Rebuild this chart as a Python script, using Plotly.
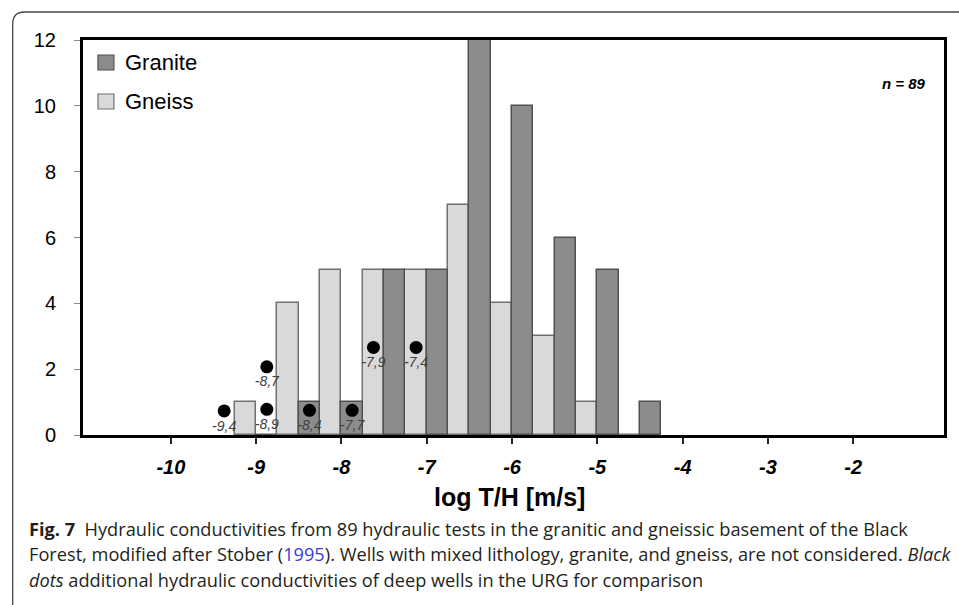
import plotly.graph_objects as go

# Histogram of log hydraulic conductivity (bins 0.5 log units wide)
bin_centers = [-9.0, -8.5, -8.0, -7.5, -7.0, -6.5, -6.0, -5.5, -5.0, -4.5]
gneiss_counts = [1, 4, 5, 5, 5, 7, 4, 3, 1, 0]
granite_counts = [0, 1, 1, 5, 5, 12, 10, 6, 5, 1]

# Additional deep wells (URG) shown as black dots with their log K values
dot_x = [-9.375, -8.875, -8.875, -8.375, -7.625, -7.875, -7.125]
dot_y = [0.73, 0.78, 2.07, 0.75, 2.66, 0.75, 2.66]
dot_labels = ["-9,4", "-8,9", "-8,7", "-8,4", "-7,9", "-7,7", "-7,4"]

x_ticks = [-10, -9, -8, -7, -6, -5, -4, -3, -2]
x_ticktext = ["-10", "-9", "-8", "-7", "-6", "-5", "-4", "-3", "-2"]
y_ticks = [0, 2, 4, 6, 8, 10, 12]

W, H = 959, 605
L, R, T, B = 83, 946, 40, 435


def px_x(px):
    return (px - L) / (R - L)


def px_y(py):
    return (B - py) / (B - T)


GRANITE_FILL, GRANITE_LINE = "#8c8c8c", "#505050"
GNEISS_FILL, GNEISS_LINE = "#d9d9d9", "#707070"

fig = go.Figure()
fig.add_trace(go.Bar(
    x=bin_centers, y=gneiss_counts, name="Gneiss",
    marker=dict(color=GNEISS_FILL, line=dict(color=GNEISS_LINE, width=1.5)),
))
fig.add_trace(go.Bar(
    x=bin_centers, y=granite_counts, name="Granite",
    marker=dict(color=GRANITE_FILL, line=dict(color=GRANITE_LINE, width=1.5)),
))
fig.add_trace(go.Scatter(
    x=dot_x, y=dot_y, mode="markers+text", text=dot_labels,
    textposition="bottom center",
    textfont=dict(family="Liberation Sans", size=14, color="#404040", style="italic"),
    marker=dict(color="black", size=13),
    showlegend=False, cliponaxis=False,
))

fig.update_layout(
    width=W, height=H, autosize=False,
    margin=dict(l=L, r=W - R, t=T, b=H - B, pad=0),
    paper_bgcolor="white", plot_bgcolor="white",
    barmode="group", bargap=0, bargroupgap=0,
    showlegend=False,
    font=dict(family="Liberation Sans", color="black"),
)

fig.update_xaxes(
    range=[-11.03, -0.936], tickvals=x_ticks, ticktext=x_ticktext,
    showline=True, linewidth=3, linecolor="black", mirror=True,
    ticks="outside", ticklen=6, tickwidth=2, tickcolor="#222",
    showgrid=False, zeroline=False,
    tickfont=dict(family="Liberation Sans", size=20, color="black",
                  weight="bold", style="italic"),
    ticklabelstandoff=6,
)
fig.update_yaxes(
    range=[0, 12], tickvals=y_ticks,
    showline=True, linewidth=3, linecolor="black", mirror=True,
    ticks="outside", ticklen=6, tickwidth=1, tickcolor="#888",
    showgrid=False, zeroline=False,
    tickfont=dict(family="Liberation Sans", size=20, color="black"),
    ticklabelstandoff=14,
)

# Legend drawn as swatches + labels
shapes = []
annotations = []
for (label, fill, line, y0, y1) in [
    ("Granite", GRANITE_FILL, GRANITE_LINE, 55, 70),
    ("Gneiss", GNEISS_FILL, GNEISS_LINE, 94, 109),
]:
    shapes.append(dict(type="rect", xref="paper", yref="paper",
                       x0=px_x(98), x1=px_x(114), y0=px_y(y1), y1=px_y(y0),
                       fillcolor=fill, line=dict(color=line, width=1.2)))
    annotations.append(dict(xref="paper", yref="paper", x=px_x(123),
                            y=px_y((y0 + y1) / 2), text=label, showarrow=False,
                            xanchor="left", yanchor="middle",
                            font=dict(family="Liberation Sans", size=22, color="black")))

annotations.append(dict(xref="paper", yref="paper", x=px_x(930), y=px_y(83),
                        text="n = 89", showarrow=False, xanchor="right", yanchor="middle",
                        font=dict(family="Liberation Sans", size=15, color="black",
                                  weight="bold", style="italic")))

annotations.append(dict(xref="paper", yref="paper", x=px_x(510), y=px_y(497),
                        text="log T/H [m/s]", showarrow=False,
                        xanchor="center", yanchor="middle",
                        font=dict(family="Liberation Sans", size=25, color="black",
                                  weight="bold")))

# Caption
cap_font = dict(family="Open Sans", size=18.2, color="#231f20")
caption_lines = [
    "<b>Fig. 7</b>  Hydraulic conductivities from 89 hydraulic tests in the granitic and gneissic basement of the Black",
    "Forest, modified after Stober (<span style='color:#3b3bd6'>1995</span>). Wells with mixed lithology, granite, and gneiss, are not considered. <i>Black</i>",
    "<i>dots</i> additional hydraulic conductivities of deep wells in the URG for comparison",
]
for line_text, yc in zip(caption_lines, [529, 554, 580]):
    annotations.append(dict(xref="paper", yref="paper", x=px_x(27), y=px_y(yc),
                            text=line_text, showarrow=False,
                            xanchor="left", yanchor="middle", font=cap_font))

# Rounded figure frame (top and left edges)
fx0, fy0, rad = 12.5, 12, 12
fx_right, fy_bottom = 975, 620
frame_path = (
    f"M {px_x(fx0)},{px_y(fy_bottom)} "
    f"L {px_x(fx0)},{px_y(fy0 + rad)} "
    f"Q {px_x(fx0)},{px_y(fy0)} {px_x(fx0 + rad)},{px_y(fy0)} "
    f"L {px_x(fx_right)},{px_y(fy0)}"
)
shapes.append(dict(type="path", xref="paper", yref="paper", path=frame_path,
                   line=dict(color="#4a4a4a", width=1.3)))

fig.update_layout(shapes=shapes, annotations=annotations)

fig.write_html("out.html")
